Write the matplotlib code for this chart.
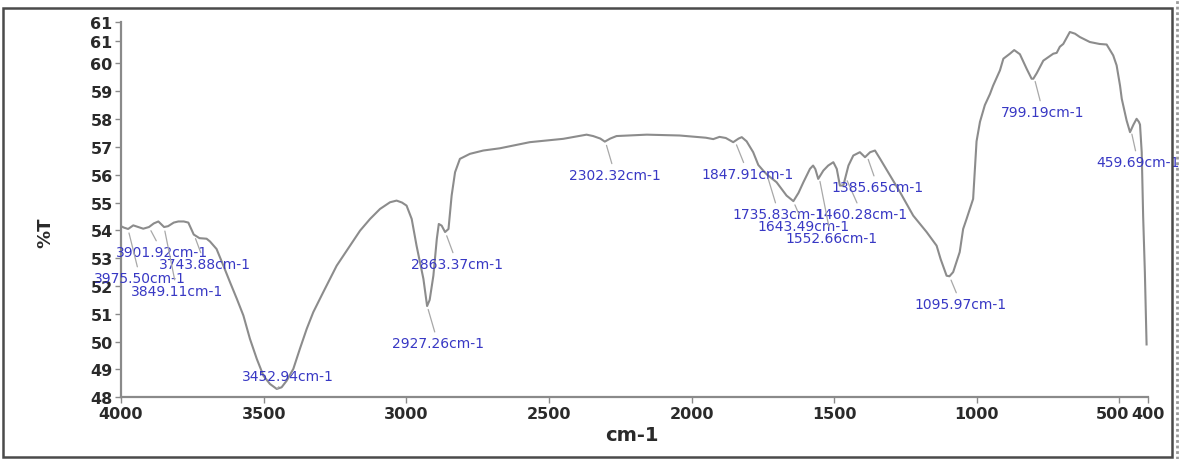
import numpy as np
import matplotlib
matplotlib.use("Agg")
import matplotlib.pyplot as plt
import matplotlib.transforms as mtransforms
from matplotlib.patches import Rectangle
from matplotlib.lines import Line2D

# ---- data: FTIR spectrum (%T vs wavenumber) ----
wavenumber = [4000, 3990, 3975, 3957, 3940, 3922, 3902, 3885, 3869, 3849,
              3835, 3815, 3799, 3780, 3764, 3745, 3725, 3700, 3688, 3665,
              3641, 3618, 3594, 3571, 3548, 3524, 3501, 3478, 3454, 3437,
              3419, 3396, 3373, 3349, 3326, 3291, 3244, 3197, 3162, 3127,
              3092, 3057, 3034, 3015, 2999, 2981, 2964, 2940, 2927, 2918,
              2905, 2893, 2886, 2876, 2864, 2852, 2841, 2829, 2812, 2777,
              2730, 2672, 2567, 2450, 2368, 2345, 2320, 2304, 2285, 2263,
              2157, 2042, 1972, 1950, 1924, 1902, 1880, 1854, 1835, 1824,
              1807, 1784, 1766, 1749, 1735, 1702, 1667, 1643, 1625, 1608,
              1585, 1574, 1566, 1556, 1538, 1521, 1503, 1491, 1480, 1468,
              1450, 1433, 1410, 1392, 1374, 1357, 1339, 1304, 1269, 1223,
              1176, 1141, 1127, 1106, 1096, 1083, 1060, 1048, 1036, 1013,
              1001, 989, 972, 954, 943, 919, 907, 884, 869, 849,
              825, 808, 802, 790, 767, 732, 720, 709, 697, 674,
              656, 639, 604, 570, 545, 522, 510, 498, 492, 475,
              463, 451, 440, 432, 428, 422, 417, 411, 405]
transmittance = [54.15, 54.10, 54.05, 54.18, 54.12, 54.06, 54.12, 54.25, 54.32, 54.12,
                 54.15, 54.28, 54.32, 54.32, 54.28, 53.85, 53.72, 53.70, 53.60, 53.33,
                 52.73, 52.14, 51.54, 50.94, 50.10, 49.38, 48.78, 48.48, 48.30, 48.36,
                 48.60, 49.02, 49.74, 50.46, 51.06, 51.78, 52.73, 53.45, 53.99, 54.41,
                 54.77, 55.01, 55.07, 55.00, 54.89, 54.41, 53.45, 52.26, 51.28, 51.50,
                 52.37, 53.69, 54.23, 54.17, 53.94, 54.05, 55.25, 56.09, 56.57, 56.75,
                 56.87, 56.95, 57.17, 57.29, 57.44, 57.39, 57.30, 57.19, 57.30, 57.39,
                 57.44, 57.41, 57.35, 57.33, 57.28, 57.36, 57.32, 57.17, 57.30, 57.35,
                 57.20, 56.81, 56.35, 56.15, 56.00, 55.73, 55.25, 55.05, 55.35, 55.73,
                 56.21, 56.33, 56.20, 55.85, 56.15, 56.33, 56.45, 56.21, 55.61, 55.61,
                 56.33, 56.69, 56.81, 56.63, 56.81, 56.87, 56.57, 55.97, 55.37, 54.53,
                 53.94, 53.45, 52.97, 52.37, 52.35, 52.50, 53.22, 54.05, 54.41, 55.13,
                 57.20, 57.90, 58.50, 58.90, 59.20, 59.75, 60.17, 60.35, 60.48, 60.33,
                 59.80, 59.45, 59.45, 59.65, 60.10, 60.35, 60.38, 60.60, 60.70, 61.13,
                 61.07, 60.95, 60.77, 60.70, 60.68, 60.29, 59.93, 59.20, 58.73, 57.95,
                 57.53, 57.80, 58.01, 57.90, 57.80, 56.80, 54.50, 52.50, 49.90]

# peak annotations
peak_positions = [3901.92, 3743.88, 3975.50, 3849.11, 3452.94, 2863.37, 2927.26,
                  2302.32, 1847.91, 1735.83, 1460.28, 1643.49, 1552.66, 1385.65,
                  1095.97, 799.19, 459.69]
peak_labels = ["3901.92cm-1", "3743.88cm-1", "3975.50cm-1", "3849.11cm-1",
               "3452.94cm-1", "2863.37cm-1", "2927.26cm-1", "2302.32cm-1",
               "1847.91cm-1", "1735.83cm-1", "1460.28cm-1", "1643.49cm-1",
               "1552.66cm-1", "1385.65cm-1", "1095.97cm-1", "799.19cm-1",
               "459.69cm-1"]

x_ticks = [4000, 3500, 3000, 2500, 2000, 1500, 1000, 500, 400]
y_ticks = [48, 49, 50, 51, 52, 53, 54, 55, 56, 57, 58, 59, 60, 60.8, 61.5]
y_tick_labels = ["48", "49", "50", "51", "52", "53", "54", "55", "56", "57",
                 "58", "59", "60", "61", "61"]

# ---- layout (label centre positions, data coords) ----
label_xy = [(3856, 53.23), (3706, 52.80), (3933, 52.29), (3804, 51.82),
            (3415, 48.77), (2822, 52.80), (2889, 49.95), (2268, 56.00),
            (1802, 56.04), (1694, 54.59), (1403, 54.59), (1606, 54.16),
            (1511, 53.73), (1347, 55.56), (1056, 51.36), (768, 58.26),
            (435, 56.46)]

W, H = 1194, 460
fig = plt.figure(figsize=(W / 100, H / 100), dpi=100)
fig.patch.set_facecolor("white")

ax = fig.add_axes([121 / W, 61.7 / H, 1027 / W, 375.6 / H])
ax.plot(wavenumber, transmittance, color="#8c8c8c", lw=1.5, zorder=3)
ax.set_xlim(4000, 400)
ax.set_ylim(48, 61.5)

ax.set_xticks(x_ticks)
ax.set_xticklabels([str(t) for t in x_ticks])
ax.set_yticks(y_ticks)
ax.set_yticklabels(y_tick_labels)

for s in ["top", "right"]:
    ax.spines[s].set_visible(False)
for s in ["left", "bottom"]:
    ax.spines[s].set_color("#8a8a8a")
    ax.spines[s].set_linewidth(1.6)

ax.tick_params(axis="both", direction="out", length=4, width=1,
               color="#8a8a8a", labelcolor="#2a2a2a", labelsize=11.5, pad=2)
for lab in ax.get_xticklabels() + ax.get_yticklabels():
    lab.set_fontweight("bold")
    lab.set_family("DejaVu Sans")

# nudge the "500" label left so it sits beside "400" as in the original
xt_labels = ax.get_xticklabels()
shift = mtransforms.ScaledTranslation(-7 / 100, 0, fig.dpi_scale_trans)
xt_labels[7].set_transform(xt_labels[7].get_transform() + shift)

ax.set_xlabel("cm-1", fontsize=14, fontweight="bold", color="#2a2a2a")
ax.xaxis.set_label_coords((632 - 121) / 1027, (398.3 - 436) / 375.6)
ax.xaxis.label.set_va("center")
ax.set_ylabel("%T", fontsize=13, fontweight="bold", color="#2a2a2a")
ax.yaxis.set_label_coords((45 - 121) / 1027, (398.3 - 233) / 375.6)
ax.yaxis.label.set_va("center")

wn_asc = np.array(wavenumber)[::-1]
tr_asc = np.array(transmittance)[::-1]
for pos, lab, (tx, ty) in zip(peak_positions, peak_labels, label_xy):
    py = float(np.interp(pos, wn_asc, tr_asc))
    ax.annotate(lab, xy=(pos, py), xytext=(tx, ty), textcoords="data",
                ha="center", va="center", fontsize=10, color="#3838c4",
                annotation_clip=False,
                arrowprops=dict(arrowstyle="-", color="#a8a8a8", lw=0.9,
                                shrinkA=1, shrinkB=3),
                zorder=4)

# outer frame of the original screenshot
fig.patches.append(Rectangle((3 / W, 2 / H), 1169 / W, 449 / H,
                             transform=fig.transFigure, fill=False,
                             edgecolor="#4a4a4a", lw=1.8))
fig.lines.append(Line2D([1177 / W, 1177 / W], [0, 1], transform=fig.transFigure,
                        color="#9a9a9a", lw=2, ls=(0, (1, 1))))

fig.savefig("out.png", dpi=100, facecolor="white")
